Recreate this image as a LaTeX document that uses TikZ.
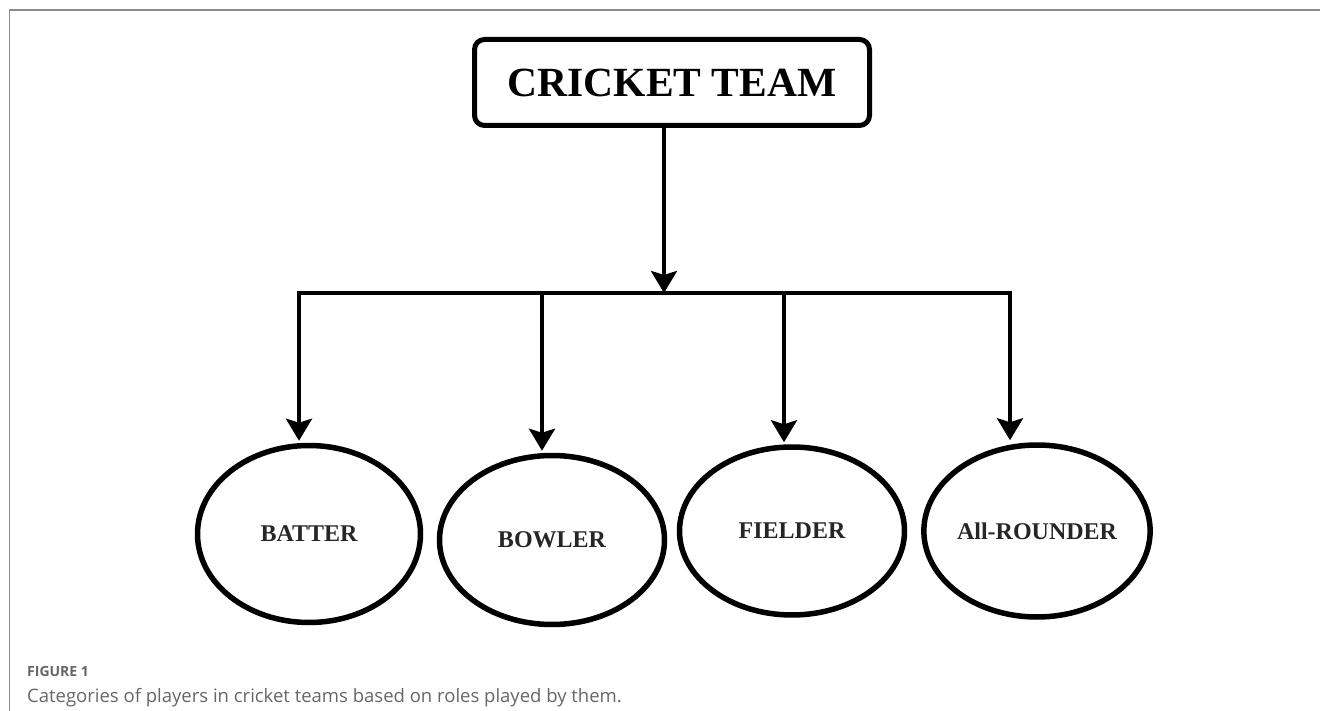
\documentclass[tikz,border=0pt]{standalone}
\usepackage{fontspec}
\setmainfont{Liberation Serif}
\newfontfamily\capfont{Open Sans}
\usetikzlibrary{shapes.geometric,arrows.meta}
\begin{document}
\begin{tikzpicture}[x=1pt,y=-1pt,
  frame/.style={draw=black!45,line width=1.4pt},
  topbox/.style={draw,line width=5pt,rounded corners=10pt,minimum width=395pt,minimum height=86pt,inner sep=0pt,
     font=\fontsize{41.5}{46}\selectfont\bfseries},
  role/.style={draw,ellipse,line width=5.5pt,inner sep=0pt,text=black!85,
     font=\fontsize{24}{28}\selectfont\bfseries},
  conn/.style={line width=4pt,-{Stealth[length=22pt,width=26pt,inset=4pt]}},
  bar/.style={line width=4pt,line cap=rect},
  capt/.style={anchor=base west,inner sep=0pt,text=black!60}]
\useasboundingbox (0,0) rectangle (1320,711);
\draw[frame] (9.5,711) -- (9.5,10) -- (1320,10);
\node[topbox] (team) at (672,82.5) {CRICKET TEAM};
\node[role,minimum width=223pt,minimum height=177pt] (bat) at (309,534) {BATTER};
\node[role,minimum width=225pt,minimum height=169pt] (bowl) at (552,540) {BOWLER};
\node[role,minimum width=225pt,minimum height=168pt] (field) at (792,531) {FIELDER};
\node[role,minimum width=225pt,minimum height=172pt] (allr) at (1037,531) {All-ROUNDER};
\coordinate (jm) at (664,293);
\coordinate (j1) at (299,293);
\coordinate (j2) at (542,293);
\coordinate (j3) at (784,293);
\coordinate (j4) at (1010,293);
\draw[bar] (j1) -- (j4);
\draw[conn] (team.south -| jm) -- (jm);
\draw[conn,shorten >=2pt] (j1) -- (j1 |- bat.north);
\draw[conn,shorten >=2pt] (j2) -- (j2 |- bowl.north);
\draw[conn,shorten >=2pt] (j3) -- (j3 |- field.north);
\draw[conn,shorten >=2pt] (j4) -- (j4 |- allr.north);
\node[capt,font=\capfont\fontsize{14}{16}\selectfont\bfseries] (fig) at (27,676) {FIGURE 1};
\node[capt,font=\capfont\fontsize{18.5}{22}\selectfont] (cap) at (27,702) {Categories of players in cricket teams based on roles played by them.};
\end{tikzpicture}
\end{document}
